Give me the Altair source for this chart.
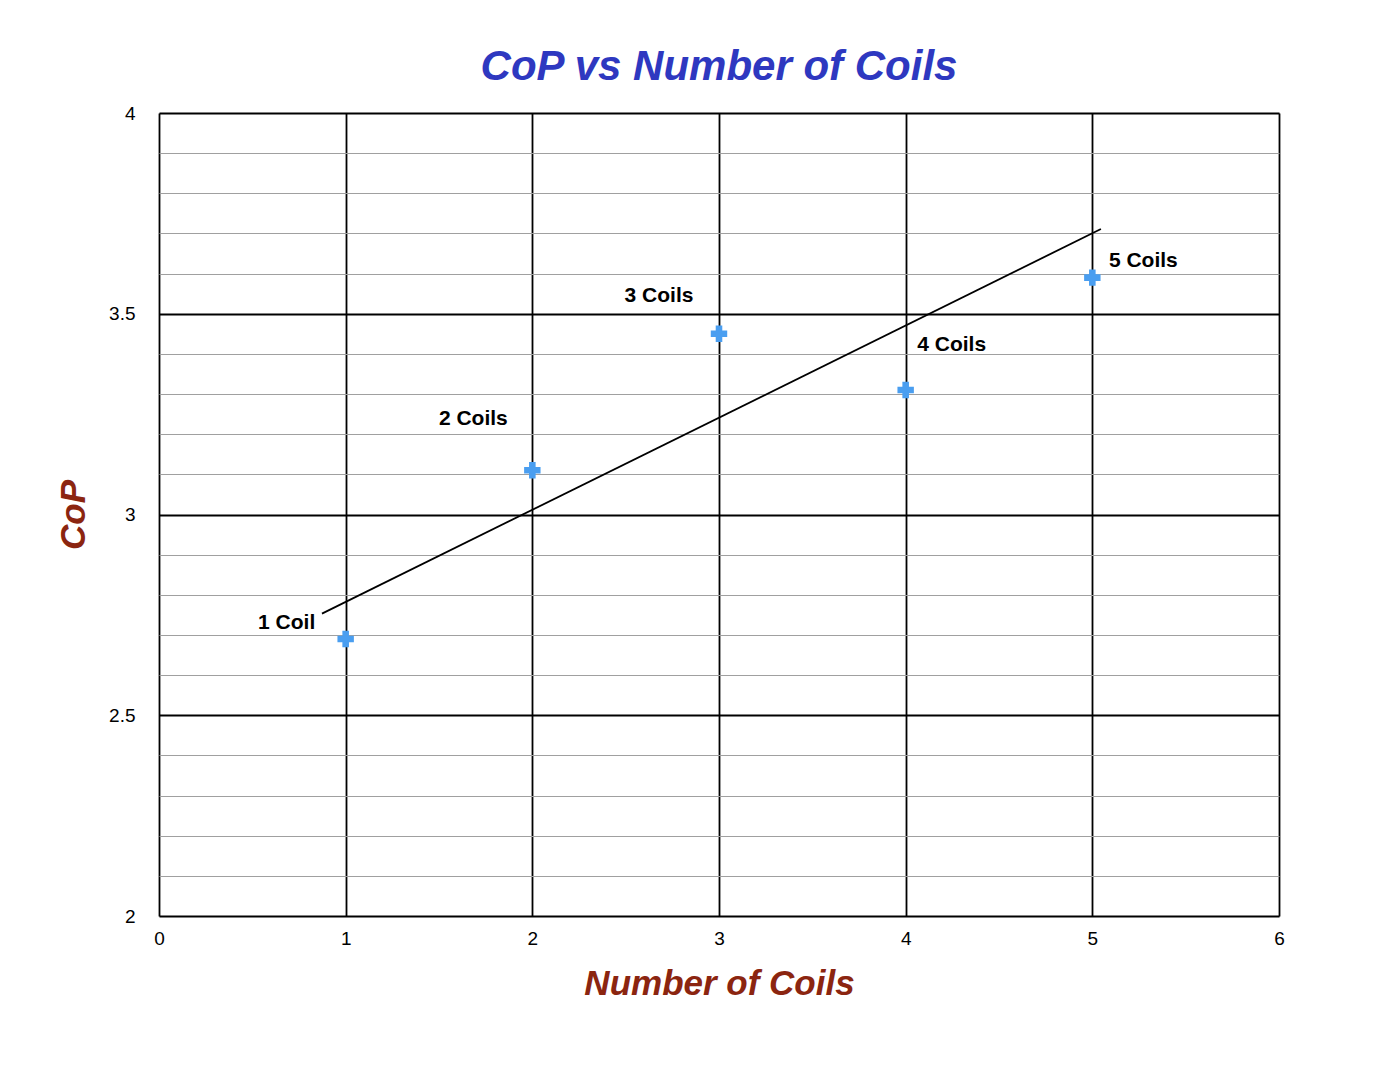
import altair as alt
import pandas as pd

# ---- data ----
coils = [1, 2, 3, 4, 5]
cop = [2.69, 3.11, 3.45, 3.31, 3.59]
point_labels = ["1 Coil", "2 Coils", "3 Coils", "4 Coils", "5 Coils"]
trend_x = [0.873, 5.046]
trend_y = [2.753, 3.711]
x_ticks = [0, 1, 2, 3, 4, 5, 6]
y_ticks = [2.0, 2.1, 2.2, 2.3, 2.4, 2.5, 2.6, 2.7, 2.8, 2.9, 3.0,
           3.1, 3.2, 3.3, 3.4, 3.5, 3.6, 3.7, 3.8, 3.9, 4.0]

# label offsets (pixels) — style only
label_dx = [-59, -59, -60, 46, 51]
label_dy = [-16, -51, -38, -45, -17]

FONT = "Liberation Sans"
W, H = 1120, 803

df = pd.DataFrame({"coils": coils, "cop": cop, "label": point_labels})
trend = pd.DataFrame({"coils": trend_x, "cop": trend_y})

major = "abs(datum.value * 2 - round(datum.value * 2)) < 0.001"

x_scale = alt.Scale(domain=[0, 6], nice=False, zero=False)
y_scale = alt.Scale(domain=[2, 4], nice=False, zero=False)

x_axis = alt.Axis(
    values=x_ticks, title="Number of Coils", grid=True, gridColor="black",
    gridWidth=1.8, ticks=False, domain=False, labelFontSize=19,
    labelPadding=13, labelFont=FONT, labelColor="black", format="d",
    labelFlush=False,
    titleFont=FONT, titleFontSize=35, titleFontWeight="bold",
    titleFontStyle="italic", titleColor="#8B2510", titleX=W / 2, titleY=67,
    titleBaseline="middle", titleAlign="center",
)
y_axis = alt.Axis(
    values=y_ticks, title="CoP", grid=True,
    gridColor={"condition": {"test": major, "value": "black"}, "value": "#a0a0a0"},
    gridWidth={"condition": {"test": major, "value": 1.8}, "value": 1},
    ticks=False, domain=False, labelFontSize=19, labelPadding=24,
    labelFont=FONT, labelColor="black", labelFlush=False,
    labelExpr=f"({major}) ? format(datum.value, '~g') : ''",
    titleFont=FONT, titleFontSize=35, titleFontWeight="bold",
    titleFontStyle="italic", titleColor="#8B2510", titleX=-86, titleY=H / 2,
    titleBaseline="middle", titleAlign="center", titleAngle=-90,
)


def xe():
    return alt.X("coils:Q", scale=x_scale, axis=x_axis)


def ye():
    return alt.Y("cop:Q", scale=y_scale, axis=y_axis)


trend_layer = alt.Chart(trend).mark_line(color="black", strokeWidth=1.8).encode(
    x=xe(), y=ye()
)

points = alt.Chart(df).mark_point(
    shape="cross", filled=True, size=270, color="#4A9EF0", opacity=1
).encode(x=xe(), y=ye())

text_layers = []
for lab, dx, dy in zip(point_labels, label_dx, label_dy):
    text_layers.append(
        alt.Chart(df)
        .transform_filter(alt.datum.label == lab)
        .mark_text(
            font=FONT, fontSize=21, fontWeight="bold", color="black",
            align="center", baseline="middle", dx=dx, dy=dy,
        )
        .encode(x=xe(), y=ye(), text="label:N")
    )

chart = (
    alt.layer(trend_layer, points, *text_layers)
    .properties(
        width=W,
        height=H,
        autosize=alt.AutoSizeParams(type="none"),
        padding={"left": 151, "top": 105, "right": 107, "bottom": 140},
        title=alt.Title(
            "CoP vs Number of Coils", font=FONT, fontSize=42,
            fontWeight="bold", fontStyle="italic", color="#2E38C0",
            anchor="middle", frame="group", offset=15,
        ),
    )
    .configure_view(stroke="black", strokeWidth=2.4)
    .configure(background="white")
)

chart.save("out.html", embed_options={"renderer": "svg", "actions": False})
